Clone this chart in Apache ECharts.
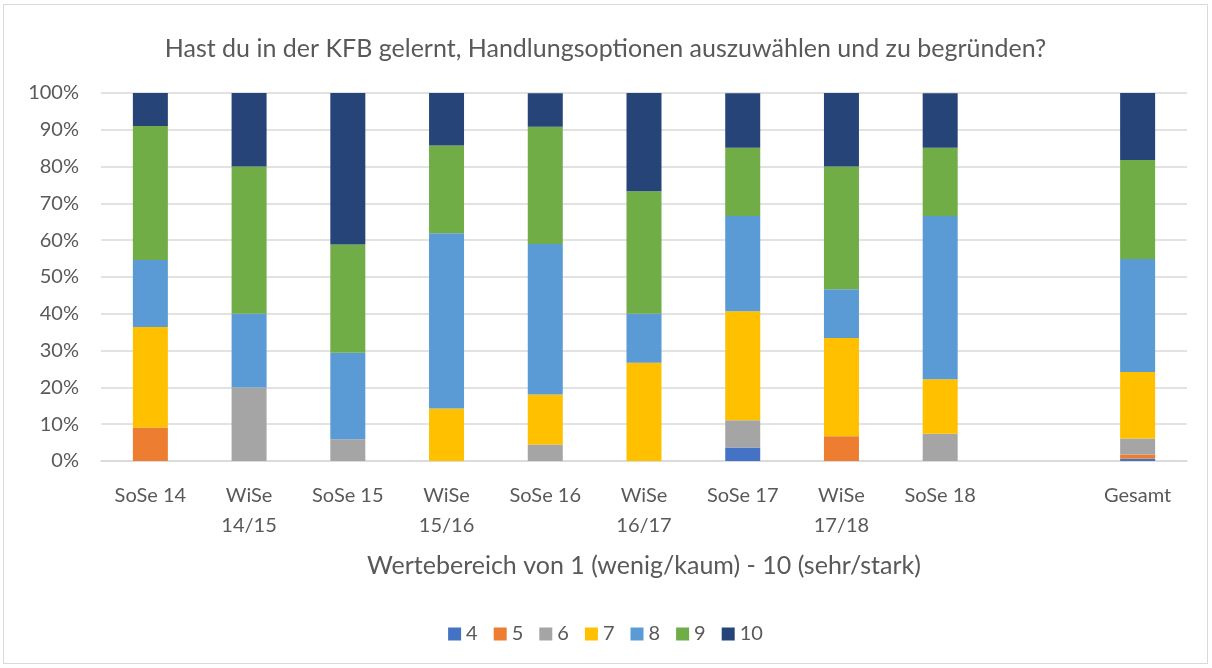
<!DOCTYPE html>
<html>
<head>
<meta charset="utf-8">
<script src="https://cdn.jsdelivr.net/npm/echarts@6/dist/echarts.min.js"></script>
<style>
  html, body { margin: 0; padding: 0; background: #fff; }
  #chart { position: absolute; left: 3px; top: 4px; width: 1205px; height: 660px; border: 1px solid #d9d9d9; box-sizing: border-box; }
</style>
</head>
<body>
<div id="chart"></div>
<script>
// Kategorien (leerer Platz vor "Gesamt")
const categories = ['SoSe 14', 'WiSe\n14/15', 'SoSe 15', 'WiSe\n15/16', 'SoSe 16', 'WiSe\n16/17', 'SoSe 17', 'WiSe\n17/18', 'SoSe 18', '', 'Gesamt'];
const seriesNames = ['4', '5', '6', '7', '8', '9', '10'];
const colors = ['#4472c4', '#ed7d31', '#a5a5a5', '#ffc000', '#5b9bd5', '#70ad47', '#264478'];

// Anteile in Prozent
const v4  = [0,    0,    0,    0,    0,    0,    3.7,  0,    0,    null, 0.6];
const v5  = [9.1,  0,    0,    0,    0,    0,    0,    6.7,  0,    null, 1.2];
const v6  = [0,    20,   5.9,  0,    4.5,  0,    7.4,  0,    7.4,  null, 4.3];
const v7  = [27.3, 0,    0,    14.3, 13.6, 26.7, 29.6, 26.7, 14.8, null, 18.1];
const v8  = [18.2, 20,   23.5, 47.6, 40.9, 13.3, 25.9, 13.3, 44.4, null, 30.7];
const v9  = [36.4, 40,   29.4, 23.8, 31.8, 33.3, 18.5, 33.3, 18.5, null, 26.9];
const v10 = [9.1,  20,   41.2, 14.3, 9.1,  26.7, 14.8, 20,   14.8, null, 18.2];
const values = [v4, v5, v6, v7, v8, v9, v10];

const yTicks = [0, 10, 20, 30, 40, 50, 60, 70, 80, 90, 100];

const font = 'Lato, Noto Sans, sans-serif';
const chart = echarts.init(document.getElementById('chart'));

chart.setOption({
  animation: false,
  color: colors,
  title: {
    text: 'Hast du in der KFB gelernt, Handlungsoptionen auszuwählen und zu begründen?',
    left: 'center',
    top: 26,
    textStyle: { fontFamily: font, fontSize: 25, fontWeight: 'normal', color: '#595959' }
  },
  legend: {
    data: seriesNames,
    bottom: 14,
    left: 'center',
    icon: 'rect',
    itemWidth: 13,
    itemHeight: 13,
    itemGap: 16,
    textStyle: { fontFamily: font, fontSize: 20, color: '#595959' }
  },
  grid: { left: 97, right: 20, top: 88, bottom: 202, containLabel: false },
  xAxis: {
    type: 'category',
    data: categories,
    name: 'Wertebereich von 1 (wenig/kaum) - 10 (sehr/stark)',
    nameLocation: 'middle',
    nameGap: 92,
    nameTextStyle: { fontFamily: font, fontSize: 25, color: '#595959' },
    axisLine: { lineStyle: { color: '#d9d9d9', width: 1.5 } },
    axisTick: { show: false },
    axisLabel: { fontFamily: font, fontSize: 20, color: '#595959', margin: 20, lineHeight: 30, interval: 0 }
  },
  yAxis: {
    type: 'value',
    min: yTicks[0],
    max: yTicks[yTicks.length - 1],
    interval: 10,
    axisLine: { show: false },
    axisTick: { show: false },
    splitLine: { lineStyle: { color: '#d9d9d9', width: 1.5 } },
    axisLabel: { fontFamily: font, fontSize: 20, color: '#595959', margin: 22, formatter: '{value}%' }
  },
  series: seriesNames.map((name, i) => ({
    name: name,
    type: 'bar',
    stack: 'total',
    barWidth: 35,
    data: values[i]
  }))
});
</script>
</body>
</html>
